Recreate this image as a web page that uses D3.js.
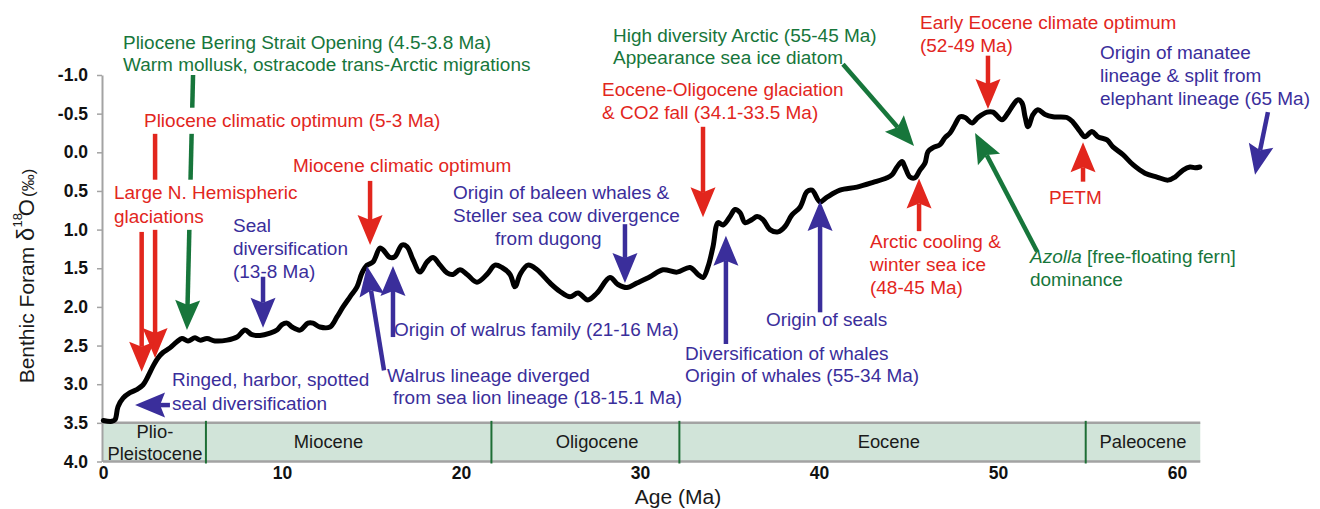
<!DOCTYPE html>
<html>
<head>
<meta charset="utf-8">
<script src="https://cdn.jsdelivr.net/npm/d3@7"></script>
<style>
  body { margin: 0; background: #fff; }
  svg { display: block; }
  text { font-family: "Liberation Sans", Arial, sans-serif; }
</style>
</head>
<body>
<svg id="chart" width="1320" height="509"></svg>
<script>
// Benthic foraminifera oxygen isotope record, age in Ma
const ages = [0.02,0.49,0.67,0.84,1.12,1.51,1.88,2.23,2.51,2.79,
  3.07,3.35,3.74,4.13,4.41,4.75,5.14,5.42,5.81,6.26,
  6.93,7.49,7.93,8.32,8.77,9.33,9.72,10.00,10.28,10.56,
  11.01,11.45,11.73,12.12,12.68,13.07,13.41,13.80,14.19,14.47,
  14.75,15.08,15.47,15.64,16.03,16.31,16.70,16.98,17.32,17.71,
  18.10,18.44,18.83,19.22,19.55,19.94,20.34,20.89,21.45,21.90,
  22.29,22.74,23.02,23.30,23.74,24.25,24.97,25.53,26.09,26.54,
  27.09,27.60,28.32,28.77,29.27,29.83,30.56,31.28,32.07,32.79,
  33.24,33.52,33.80,34.08,34.36,34.64,35.03,35.31,35.59,35.87,
  36.26,36.54,36.87,37.26,37.71,38.10,38.49,38.94,39.33,39.61,
  40.06,40.45,41.17,42.12,43.02,43.80,44.08,44.36,44.64,44.80,
  45.08,45.36,45.64,45.92,46.09,46.37,46.76,47.04,47.32,47.60,
  47.88,48.16,48.55,48.88,49.39,49.72,50.22,50.56,50.84,51.12,
  51.34,51.51,51.68,51.96,52.23,52.63,53.07,53.85,54.19,54.58,
  54.86,55.25,55.59,56.09,56.42,56.98,57.54,58.21,58.88,59.50,
  59.89,60.34,60.73,61.01,61.28];

const d18O = [3.47,3.48,3.46,3.29,3.18,3.11,3.07,3.01,2.90,2.77,
  2.66,2.59,2.53,2.45,2.41,2.44,2.40,2.43,2.41,2.44,
  2.43,2.39,2.30,2.36,2.37,2.34,2.30,2.23,2.21,2.26,
  2.30,2.21,2.21,2.26,2.26,2.13,2.00,1.87,1.74,1.56,
  1.46,1.42,1.24,1.26,1.36,1.35,1.20,1.22,1.39,1.55,
  1.42,1.36,1.46,1.56,1.58,1.52,1.58,1.68,1.58,1.46,
  1.49,1.58,1.74,1.58,1.46,1.52,1.69,1.80,1.87,1.82,
  1.91,1.82,1.62,1.71,1.75,1.69,1.61,1.52,1.55,1.49,
  1.58,1.62,1.48,1.22,0.91,0.94,0.83,0.74,0.78,0.91,
  0.87,0.83,0.87,1.00,1.03,0.96,0.81,0.71,0.51,0.49,
  0.64,0.58,0.49,0.45,0.39,0.33,0.29,0.19,0.12,0.19,
  0.32,0.33,0.23,0.14,-0.01,-0.06,-0.10,-0.19,-0.25,-0.36,
  -0.46,-0.45,-0.38,-0.45,-0.52,-0.52,-0.42,-0.51,-0.61,-0.68,
  -0.64,-0.46,-0.33,-0.49,-0.55,-0.49,-0.46,-0.45,-0.39,-0.27,
  -0.20,-0.27,-0.20,-0.16,-0.07,0.03,0.16,0.27,0.32,0.36,
  0.32,0.23,0.19,0.20,0.19];

const yTicks = [-1.0,-0.5,0.0,0.5,1.0,1.5,2.0,2.5,3.0,3.5,4.0];
const xTicks = [0,10,20,30,40,50,60];

// Geological epochs (Ma)
const epochNames = [["Plio-","Pleistocene"],["Miocene"],["Oligocene"],["Eocene"],["Paleocene"]];
const epochStart = [0, 5.75, 21.7, 32.2, 54.9];
const epochEnd   = [5.75, 21.7, 32.2, 54.9, 61.3];
const epochLabelAge = [2.9, 12.6, 27.6, 43.9, 58.1];

// Event arrows: [age, d18O] of tail and tip
const arrowKind = ["red","red","green","red","blue","blue","blue","blue","blue","red","blue","blue","red","green","red","green","red","blue"];
const arrowTail = [[2.91,-0.28],[2.16,1.03],[5.03,-1.00],[14.92,0.37],[8.94,1.61],[3.74,3.27],[15.70,2.82],[16.20,2.39],[29.16,0.93],[33.52,-0.33],[34.80,2.48],[40.06,2.07],[45.59,1.02],[41.34,-1.14],[49.44,-1.25],[52.18,1.28],[54.75,0.38],[65.08,-0.52]];
const arrowTip  = [[2.91,2.66],[2.16,2.84],[4.69,2.30],[14.92,1.20],[8.94,2.27],[1.79,3.27],[14.75,1.47],[16.20,1.47],[29.16,1.69],[33.52,0.84],[34.80,1.08],[40.06,0.63],[45.59,0.34],[45.31,-0.08],[49.44,-0.56],[48.72,-0.25],[54.75,-0.13],[64.36,0.29]];

const palette = { red: "#e2261d", green: "#17763b", blue: "#3a2e9b" };

// Annotation text blocks (x, first baseline in px)
const labelBlocks = [
  {c:"green", x:123, y:49, lh:22, lines:["Pliocene Bering Strait Opening (4.5-3.8 Ma)","Warm mollusk, ostracode trans-Arctic migrations"]},
  {c:"green", x:613, y:42, lh:22, lines:["High diversity Arctic (55-45 Ma)","Appearance sea ice diatom"]},
  {c:"green", x:1030, y:263, lh:23, lines:["*Azolla* [free-floating fern]","dominance"]},
  {c:"red", x:144, y:127, lh:23, lines:["Pliocene climatic optimum (5-3 Ma)"], knock:true},
  {c:"red", x:114, y:199, lh:24, lines:["Large N. Hemispheric","glaciations"], knock:true},
  {c:"red", x:293, y:172, lh:23, lines:["Miocene climatic optimum"]},
  {c:"red", x:602, y:96, lh:23, lines:["Eocene-Oligocene glaciation","& CO2 fall (34.1-33.5 Ma)"]},
  {c:"red", x:920, y:29, lh:23, lines:["Early Eocene climate optimum","(52-49 Ma)"]},
  {c:"red", x:870, y:248, lh:23, lines:["Arctic cooling &","winter sea ice","(48-45 Ma)"]},
  {c:"red", x:1049, y:204, lh:23, lines:["PETM"]},
  {c:"blue", x:233, y:232, lh:23, lines:["Seal","diversification","(13-8 Ma)"]},
  {c:"blue", x:453, y:199, lh:23, lines:["Origin of baleen whales &","Steller sea cow divergence","from dugong"], indent:[0,0,42]},
  {c:"blue", x:394, y:336, lh:23, lines:["Origin of walrus family (21-16 Ma)"]},
  {c:"blue", x:387, y:382, lh:22, lines:["Walrus lineage diverged","from sea lion lineage (18-15.1 Ma)"], indent:[0,6]},
  {c:"blue", x:172, y:386, lh:24, lines:["Ringed, harbor, spotted","seal diversification"]},
  {c:"blue", x:766, y:326, lh:23, lines:["Origin of seals"]},
  {c:"blue", x:685, y:360, lh:22, lines:["Diversification of whales","Origin of whales (55-34 Ma)"]},
  {c:"blue", x:1100, y:59, lh:23, lines:["Origin of manatee","lineage & split from","elephant lineage (65 Ma)"]}
];

const FS = 17.5, SX = 1.085;
const svg = d3.select("#chart");

const x = d3.scaleLinear().domain([0, 61.3]).range([103, 103 + 61.3 * 17.9]);
const y = d3.scaleLinear().domain([-1, 4]).range([75, 461.5]);

// Epoch band
const band = svg.append("g");
epochStart.forEach((s, i) => {
  band.append("rect")
    .attr("x", x(s)).attr("y", y(3.5))
    .attr("width", x(epochEnd[i]) - x(s)).attr("height", y(4) - y(3.5))
    .attr("fill", "#d1e4d9");
});
[3.5, 4.0].forEach(v => {
  band.append("line").attr("x1", x(0)).attr("x2", x(61.3))
    .attr("y1", y(v)).attr("y2", y(v))
    .attr("stroke", "#a3a3a3").attr("stroke-width", 2.5);
});
epochStart.slice(1).forEach(s => {
  band.append("line").attr("x1", x(s)).attr("x2", x(s))
    .attr("y1", y(3.5) - 2).attr("y2", y(4) + 2)
    .attr("stroke", "#1d6e35").attr("stroke-width", 2);
});
epochNames.forEach((lines, i) => {
  const t = band.append("text").attr("text-anchor", "middle")
    .attr("font-size", 17.5).attr("fill", "#1a1a1a")
    .attr("transform", `translate(${x(epochLabelAge[i])},0) scale(1.05,1)`);
  const base = lines.length === 1 ? 448 : 438;
  lines.forEach((ln, j) => t.append("tspan").attr("x", 0).attr("y", base + j * 22).text(ln));
});

// Y axis
const yAxis = svg.append("g").attr("transform", `translate(${x(0) - 1},0)`)
  .call(d3.axisLeft(y).tickValues(yTicks).tickSize(5).tickSizeOuter(0).tickPadding(9)
    .tickFormat(d => d.toFixed(1)));
yAxis.select(".domain").attr("stroke", "#a3a3a3").attr("stroke-width", 2);
yAxis.selectAll(".tick line").attr("stroke", "#a3a3a3").attr("stroke-width", 1.5);
yAxis.selectAll(".tick text").attr("font-size", 17.5).attr("font-weight", "bold")
  .attr("fill", "#111").attr("font-family", "Liberation Sans, Arial, sans-serif");

// X axis labels
const xAxis = svg.append("g").attr("transform", `translate(0,${y(4)})`)
  .call(d3.axisBottom(x).tickValues(xTicks).tickSize(0).tickPadding(5).tickFormat(d3.format("d")));
xAxis.select(".domain").remove();
xAxis.selectAll(".tick text").attr("font-size", 17.5).attr("font-weight", "bold")
  .attr("fill", "#111").attr("font-family", "Liberation Sans, Arial, sans-serif");

svg.append("text").attr("transform", "translate(678,504) scale(1.08,1)")
  .attr("text-anchor", "middle").attr("font-size", 19.5).attr("fill", "#1a1a1a").text("Age (Ma)");

// Y axis title
const yt = svg.append("text").attr("transform", "translate(34,276) rotate(-90)")
  .attr("text-anchor", "middle").attr("font-size", 21).attr("fill", "#1a1a1a");
yt.append("tspan").text("Benthic Foram  ");
yt.append("tspan").attr("font-size", 24).text("δ");
yt.append("tspan").attr("font-size", 13).attr("dy", -12).text("18");
yt.append("tspan").attr("font-size", 22).attr("dy", 12).attr("dx", -3).text("O");
yt.append("tspan").attr("font-size", 17).attr("dx", 2).text("(‰)");

// Isotope curve
const line = d3.line().x((d, i) => x(ages[i])).y(d => y(d)).curve(d3.curveCatmullRom.alpha(0.5));
svg.append("path").datum(d18O)
  .attr("d", line)
  .attr("fill", "none").attr("stroke", "#000")
  .attr("stroke-width", 5).attr("stroke-linejoin", "round").attr("stroke-linecap", "round");

// Event arrows
const arrows = svg.append("g");
arrowTail.forEach((tail, i) => {
  const col = palette[arrowKind[i]];
  const x0 = x(tail[0]), y0 = y(tail[1]);
  const x1 = x(arrowTip[i][0]), y1 = y(arrowTip[i][1]);
  const len = Math.hypot(x1 - x0, y1 - y0);
  const ux = (x1 - x0) / len, uy = (y1 - y0) / len;
  const L = 30, W = 12.5, notch = 5;
  const bx = x1 - ux * L, by = y1 - uy * L;
  const nx = bx + ux * notch, ny = by + uy * notch;
  arrows.append("line").attr("x1", x0).attr("y1", y0).attr("x2", nx).attr("y2", ny)
    .attr("stroke", col).attr("stroke-width", 4.5);
  arrows.append("path")
    .attr("d", `M${x1},${y1}L${bx - uy * W},${by + ux * W}L${nx},${ny}L${bx + uy * W},${by - ux * W}Z`)
    .attr("fill", col);
});

// Annotation text
labelBlocks.forEach(b => {
  const g = svg.append("g").attr("transform", `translate(${b.x},${b.y}) scale(${SX},1)`);
  const t = g.append("text").attr("fill", palette[b.c]).attr("font-size", FS);
  b.lines.forEach((ln, i) => {
    const ts = t.append("tspan").attr("x", (b.indent ? b.indent[i] : 0) / SX).attr("y", i * b.lh);
    ln.split("*").forEach((part, k) => {
      if (!part) return;
      const p = ts.append("tspan").text(part);
      if (k % 2 === 1) p.attr("font-style", "italic");
    });
  });
  if (b.knock) {
    const bb = t.node().getBBox();
    g.insert("rect", "text").attr("x", bb.x - 3).attr("y", bb.y - 3)
      .attr("width", bb.width + 6).attr("height", bb.height + 6).attr("fill", "#fff");
  }
});
</script>
</body>
</html>
